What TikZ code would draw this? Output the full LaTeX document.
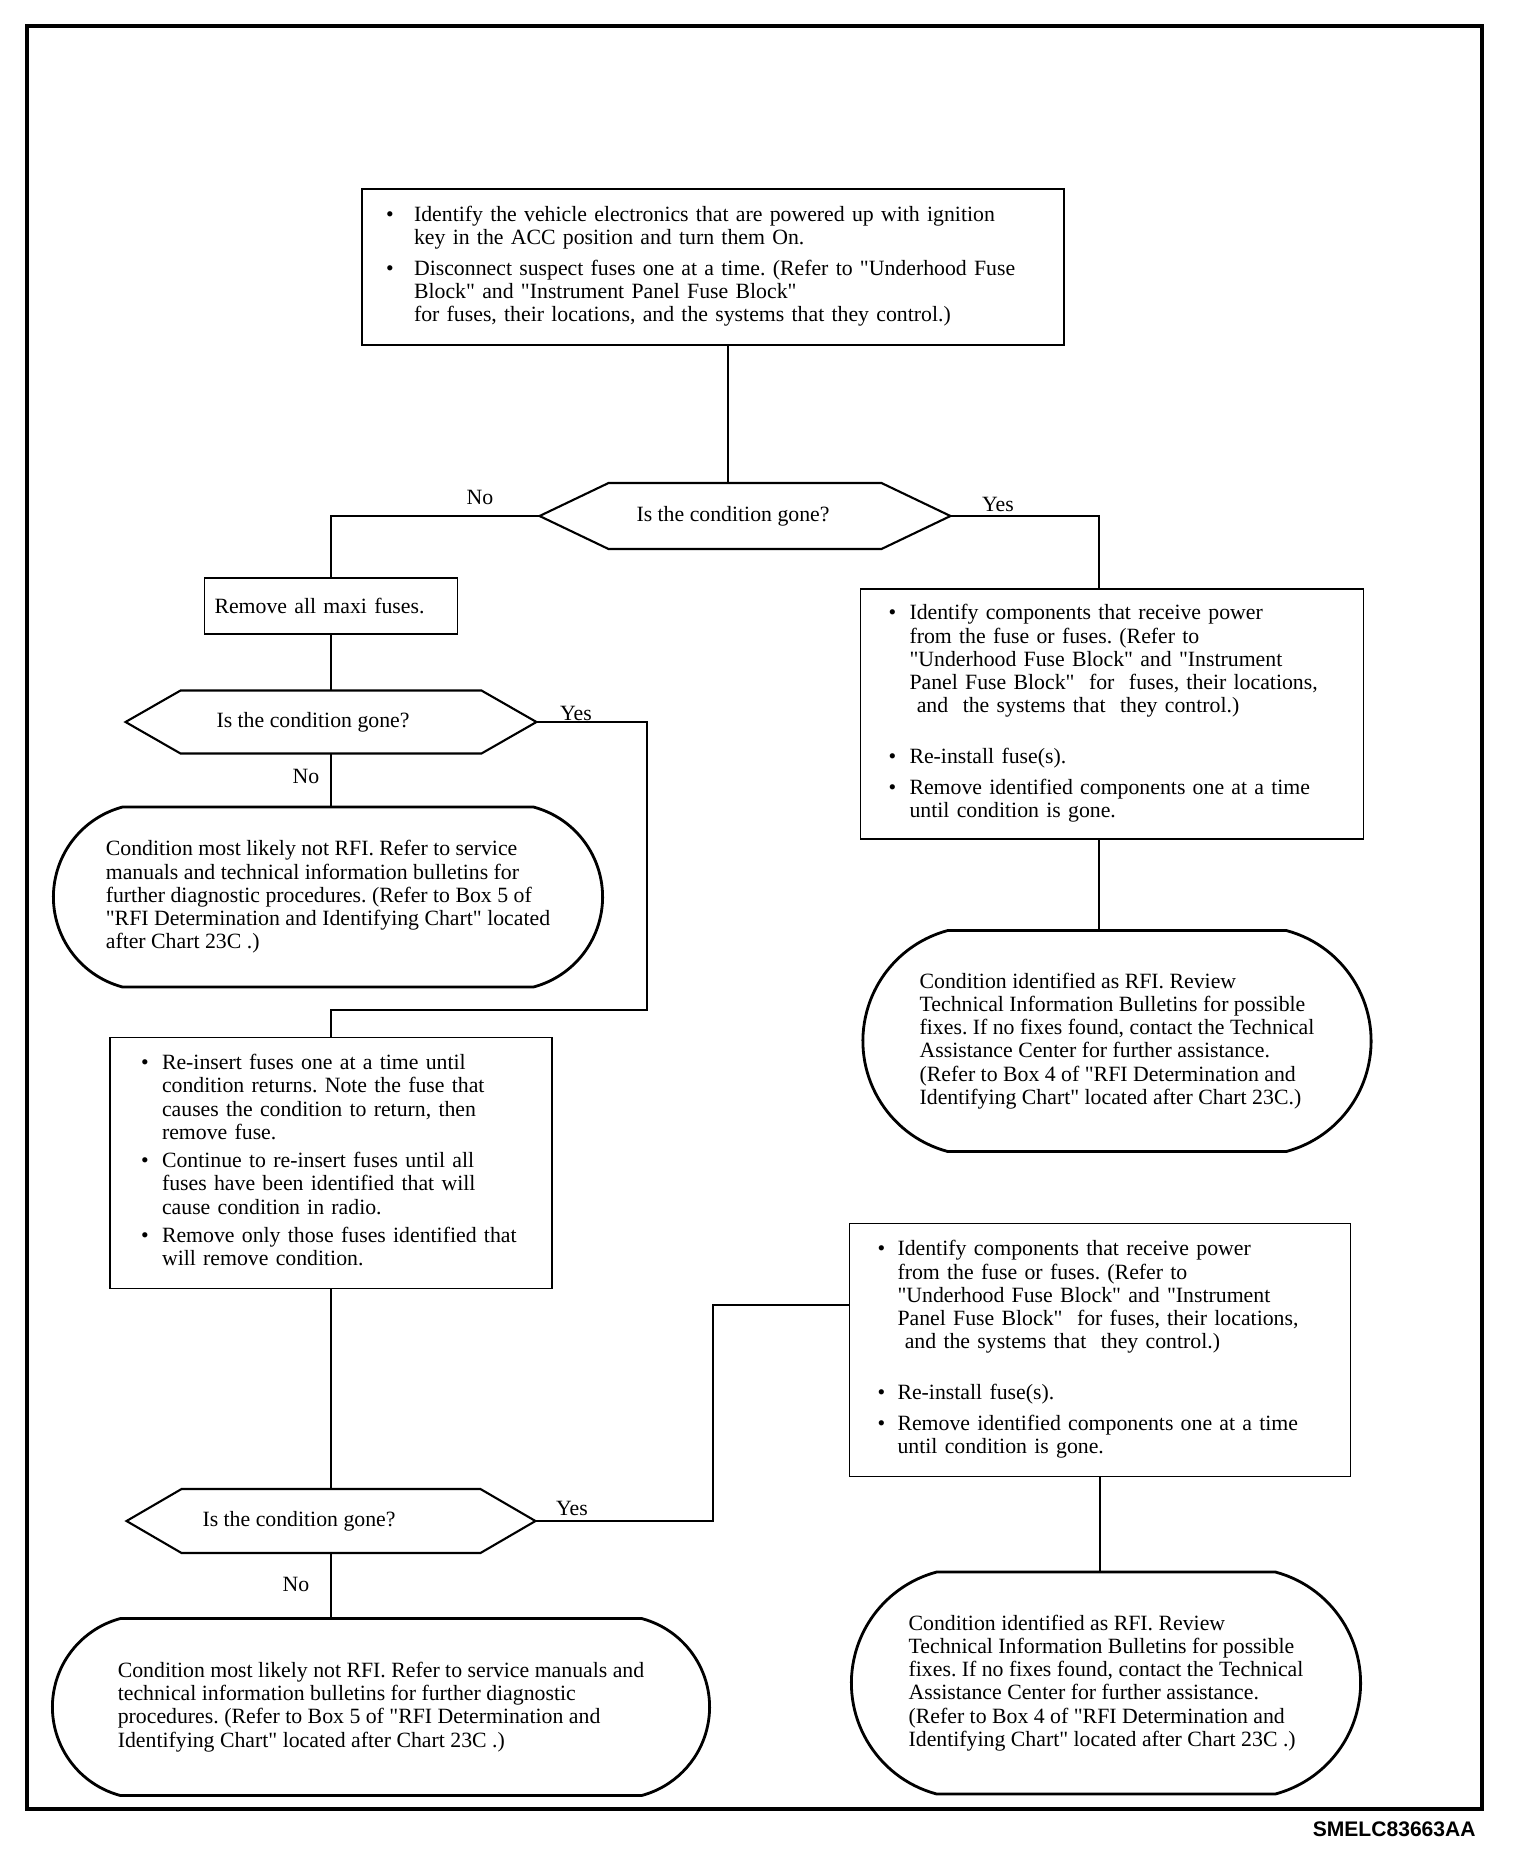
\documentclass[tikz,border=0pt]{standalone}
\usepackage{fontspec}
\setmainfont{Liberation Serif}
\newfontfamily\codefont{Liberation Sans}
\usepackage{tikz}
\usetikzlibrary{positioning, shapes.misc}

% bullet cell for the step boxes
\newcommand{\dotcell}[1][0.42cm]{\makebox[#1][l]{\textbullet}}
\newcommand{\qt}{\textquotedbl}
% six-sided outline round a decision node
\newcommand{\hexframe}[2]{%
  \draw[line width=1.2pt] (#1.west) -- ([xshift=#2]#1.north west)
    -- ([xshift=-#2]#1.north east) -- (#1.east)
    -- ([xshift=-#2]#1.south east) -- ([xshift=#2]#1.south west) -- cycle;}

\begin{document}
\frenchspacing
\begin{tikzpicture}[x=0.02cm, y=-0.02cm,
  every node/.style={font=\fontsize{12.4}{13.2}\selectfont},
  actbox/.style={draw, line width=1pt, rectangle, align=left, outer sep=0pt},
  query/.style={rectangle, inner sep=0pt, outer sep=0pt},
  endcap/.style={draw, line width=1.6pt, rounded rectangle,
    rounded rectangle arc length=150, align=left, outer sep=0pt},
  link/.style={line width=1pt},
  tag/.style={inner sep=0pt}]
  \useasboundingbox (0,0) rectangle (1520,1850);
  \draw[line width=2.6pt] (27,26) rectangle (1482,1809);

  % top step
  \node[actbox, minimum width=14.04cm, minimum height=3.12cm,
    text width=13.08cm, inner xsep=0.48cm] (ident) at (713,267) {\noindent
    \begin{tabular}{@{}l@{}l@{}}
      \dotcell[0.56cm] & Identify the vehicle electronics that are powered up with ignition\\
      & key in the ACC position and turn them On.\\[4pt]
      \dotcell[0.56cm] & Disconnect suspect fuses one at a time. (Refer to \qt Underhood Fuse\\
      & Block\qt{} and \qt Instrument Panel Fuse Block\qt\\
      & for fuses, their locations, and the systems that they control.)
    \end{tabular}};

  \node[query, minimum width=8.22cm, minimum height=1.32cm] (gone1) at (745,516)
    {Is the condition gone?\rule{0.48cm}{0pt}};
  \hexframe{gone1}{1.38cm}

  % left branch
  \node[actbox, minimum width=5.06cm, minimum height=1.12cm,
    text width=4.66cm, inner xsep=0.2cm] (maxi) at (331,606) {Remove all maxi fuses.};

  \node[query, minimum width=8.22cm, minimum height=1.26cm] (gone2) at (331,722)
    {Is the condition gone?\rule{0.72cm}{0pt}};
  \hexframe{gone2}{1.1cm}

  \node[endcap, minimum width=11.22cm, minimum height=3.6cm] (notrfiA) at (328,897)
    {Condition most likely not RFI. Refer to service\\
     manuals and technical information bulletins for\\
     further diagnostic procedures. (Refer to Box 5 of\\
     \qt RFI Determination and Identifying Chart\qt{} located\\
     after Chart 23C .)};

  \node[actbox, minimum width=8.84cm, minimum height=5.02cm,
    text width=7.6cm, inner xsep=0.62cm] (reins) at (331,1163) {\noindent
    \begin{tabular}{@{}l@{}l@{}}
      \dotcell & Re-insert fuses one at a time until\\
      & condition returns. Note the fuse that\\
      & causes the condition to return, then\\
      & remove fuse.\\[3pt]
      \dotcell & Continue to re-insert fuses until all\\
      & fuses have been identified that will\\
      & cause condition in radio.\\[3pt]
      \dotcell & Remove only those fuses identified that\\
      & will remove condition.
    \end{tabular}};

  \node[query, minimum width=8.18cm, minimum height=1.28cm] (gone3) at (331,1521)
    {Is the condition gone?\rule{1.28cm}{0pt}};
  \hexframe{gone3}{1.1cm}

  \node[endcap, minimum width=13.38cm, minimum height=3.54cm] (notrfiB) at (381,1707)
    {Condition most likely not RFI. Refer to service manuals and\\
     technical information bulletins for further diagnostic\\
     procedures. (Refer to Box 5 of \qt RFI Determination and\\
     Identifying Chart\qt{} located after Chart 23C .)};

  % right branch
  \node[actbox, minimum width=10.06cm, minimum height=5cm,
    text width=8.94cm, inner xsep=0.56cm] (partsA) at (1112,714) {\noindent
    \begin{tabular}{@{}l@{}l@{}}
      \dotcell & Identify components that receive power\\
      & from the fuse or fuses. (Refer to\\
      & \qt Underhood Fuse Block\qt{} and \qt Instrument\\
      & Panel Fuse Block\qt\ \ for\ \ fuses, their locations,\\
      & \ and\ \ the systems that\ \ they control.)\\[16pt]
      \dotcell & Re-install fuse(s).\\[4pt]
      \dotcell & Remove identified components one at a time\\
      & until condition is gone.
    \end{tabular}};

  \node[endcap, minimum width=10.4cm, minimum height=4.42cm] (rfiA) at (1117,1041)
    {Condition identified as RFI. Review\\
     Technical Information Bulletins for possible\\
     fixes. If no fixes found, contact the Technical\\
     Assistance Center for further assistance.\\
     (Refer to Box 4 of \qt RFI Determination and\\
     Identifying Chart\qt{} located after Chart 23C.)};

  \node[actbox, minimum width=10.02cm, minimum height=5.06cm,
    text width=8.9cm, inner xsep=0.56cm] (partsB) at (1100,1350) {\noindent
    \begin{tabular}{@{}l@{}l@{}}
      \dotcell[0.4cm] & Identify components that receive power\\
      & from the fuse or fuses. (Refer to\\
      & \qt Underhood Fuse Block\qt{} and \qt Instrument\\
      & Panel Fuse Block\qt\ \ for fuses, their locations,\\
      & \ and the systems that\ \ they control.)\\[16pt]
      \dotcell[0.4cm] & Re-install fuse(s).\\[4pt]
      \dotcell[0.4cm] & Remove identified components one at a time\\
      & until condition is gone.
    \end{tabular}};

  \node[endcap, minimum width=10.42cm, minimum height=4.44cm] (rfiB) at (1106,1683)
    {Condition identified as RFI. Review\\
     Technical Information Bulletins for possible\\
     fixes. If no fixes found, contact the Technical\\
     Assistance Center for further assistance.\\
     (Refer to Box 4 of \qt RFI Determination and\\
     Identifying Chart\qt{} located after Chart 23C .)};

  % connectors
  \draw[link] ([xshift=0.3cm]ident.south) -- ([xshift=0.3cm]ident.south |- gone1.north);
  \draw[link] (gone1.west) -| (maxi.north);
  \draw[link] (gone1.east) -| ([xshift=-0.26cm]partsA.north);
  \draw[link] (maxi.south) -- (gone2.north);
  \draw[link] (gone2.south) -- (gone2.south |- notrfiA.north);
  \coordinate (bendA) at (647,1010);
  \draw[link] (gone2.east) -| (bendA) -| (reins.north);
  \draw[link] ([xshift=-0.26cm]partsA.south) -- ([xshift=-0.26cm]partsA.south |- rfiA.north);
  \draw[link] (reins.south) -- (gone3.north);
  \draw[link] (gone3.south) -- (gone3.south |- notrfiB.north);
  \coordinate (bendB) at (713,1305);
  \draw[link] (gone3.east) -| (bendB) -- (bendB -| partsB.west);
  \draw[link] (partsB.south) -- (partsB.south |- rfiB.north);

  % branch labels
  \node[tag] (noA) at (480,497) {No};
  \node[tag] (yesA) at (998,504) {Yes};
  \node[tag] (yesB) at (576,713) {Yes};
  \node[tag] (noB) at (306,776) {No};
  \node[tag] (yesC) at (572,1508) {Yes};
  \node[tag] (noC) at (296,1584) {No};

  \node[tag, anchor=east, font={\codefont\bfseries\fontsize{12}{14}\selectfont}] (code)
    at (1476,1829) {SMELC83663AA};
\end{tikzpicture}
\end{document}
